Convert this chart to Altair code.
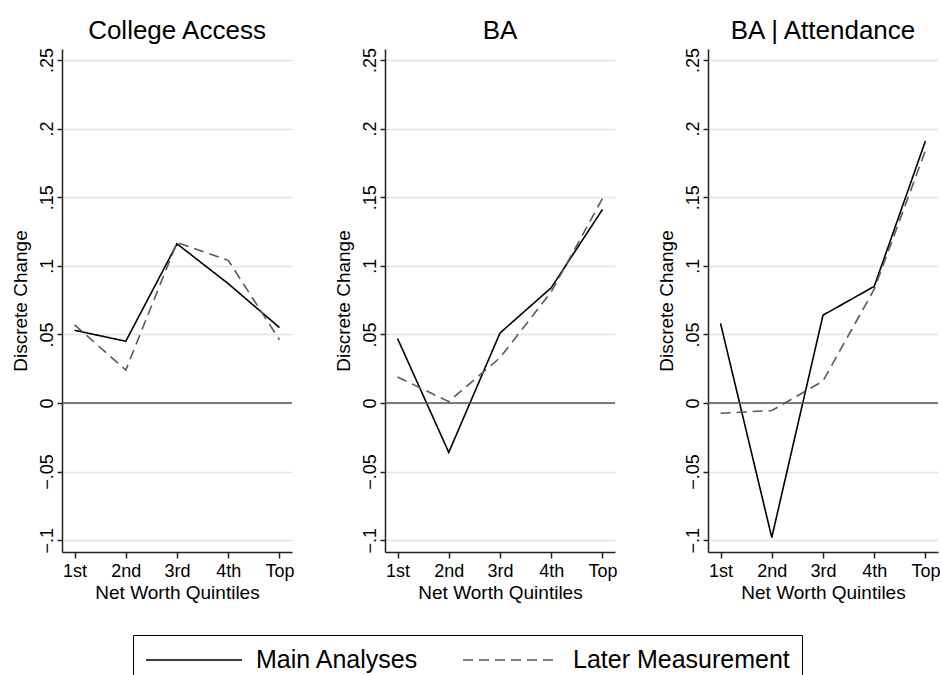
import altair as alt
import pandas as pd

# ---- data ----
quintiles = ["1st", "2nd", "3rd", "4th", "Top"]
series_names = ["Main Analyses", "Later Measurement"]
panel_titles = ["College Access", "BA", "BA | Attendance"]

main_access = [0.053, 0.045, 0.116, 0.087, 0.055]
later_access = [0.057, 0.024, 0.117, 0.104, 0.046]
main_ba = [0.047, -0.036, 0.051, 0.084, 0.141]
later_ba = [0.019, 0.001, 0.033, 0.081, 0.149]
main_att = [0.058, -0.098, 0.064, 0.085, 0.191]
later_att = [-0.0075, -0.0055, 0.016, 0.083, 0.184]

y_ticks = [-0.1, -0.05, 0, 0.05, 0.1, 0.15, 0.2, 0.25]

FONT = "Liberation Sans"
PANEL_W, PANEL_H = 230, 503

legend = alt.Legend(
    title=None,
    orient="none",
    legendX=71,
    legendY=586,
    direction="horizontal",
    symbolType="M-1,0H7",
    symbolSize=576,
    symbolStrokeWidth=1.6,
    symbolFillColor="transparent",
    labelFont=FONT,
    labelFontSize=25,
    labelColor="#000",
    labelOffset=85,
    labelLimit=400,
    columnPadding=40,
    padding=12,
    strokeColor="#000",
    fillColor="#fff",
)


def panel(title, main, later):
    df = pd.DataFrame({
        "quintile": quintiles * 2,
        "value": main + later,
        "series": [series_names[0]] * 5 + [series_names[1]] * 5,
    })
    x = alt.X(
        "quintile:N",
        sort=quintiles,
        scale=alt.Scale(type="point", padding=0.245),
        axis=alt.Axis(
            title="Net Worth Quintiles",
            labelAngle=0,
            grid=False,
            tickSize=6,
            labelPadding=4,
            titlePadding=3,
        ),
    )
    y = alt.Y(
        "value:Q",
        scale=alt.Scale(domain=[-0.1086, 0.258], nice=False, zero=False),
        axis=alt.Axis(
            title="Discrete Change",
            values=y_ticks,
            labelExpr="replace(replace(format(datum.value, '~g'), '0.', '.'), '-', '\u2212')",
            labelAngle=270,
            labelAlign="center",
            labelBaseline="alphabetic",
            labelPadding=5,
            tickSize=5,
            titlePadding=8,
        ),
    )
    zero = alt.Chart(pd.DataFrame({"z": [0]})).mark_rule(
        color="#555", strokeWidth=1.5
    ).encode(y=alt.Y("z:Q"))
    lines = alt.Chart(df).mark_line(strokeWidth=1.6).encode(
        x=x,
        y=y,
        color=alt.Color(
            "series:N",
            scale=alt.Scale(domain=series_names, range=["#000000", "#5a5a5a"]),
            legend=legend,
        ),
        strokeDash=alt.StrokeDash(
            "series:N",
            scale=alt.Scale(domain=series_names, range=[[1, 0], [10, 6]]),
            legend=legend,
        ),
    )
    return alt.layer(lines, zero).properties(
        width=PANEL_W,
        height=PANEL_H,
        title=alt.TitleParams(
            title, fontSize=26, font=FONT, fontWeight="normal",
            anchor="middle", color="#000", offset=3,
        ),
    )


chart = alt.hconcat(
    panel(panel_titles[0], main_access, later_access),
    panel(panel_titles[1], main_ba, later_ba),
    panel(panel_titles[2], main_att, later_att),
    spacing=40,
).properties(
    padding={"left": 11, "top": 18, "right": 0, "bottom": 0},
    background="#ffffff",
).configure_view(
    stroke=None
).configure_axis(
    labelFont=FONT,
    titleFont=FONT,
    labelFontSize=18,
    titleFontSize=19,
    titleFontWeight="normal",
    labelColor="#000",
    titleColor="#000",
    domainColor="#222",
    domainWidth=1.5,
    tickColor="#222",
    tickWidth=1.5,
    gridColor="#e3e3e3",
    gridWidth=1.5,
)

chart.save("out.html", embed_options={"renderer": "svg", "actions": False})
